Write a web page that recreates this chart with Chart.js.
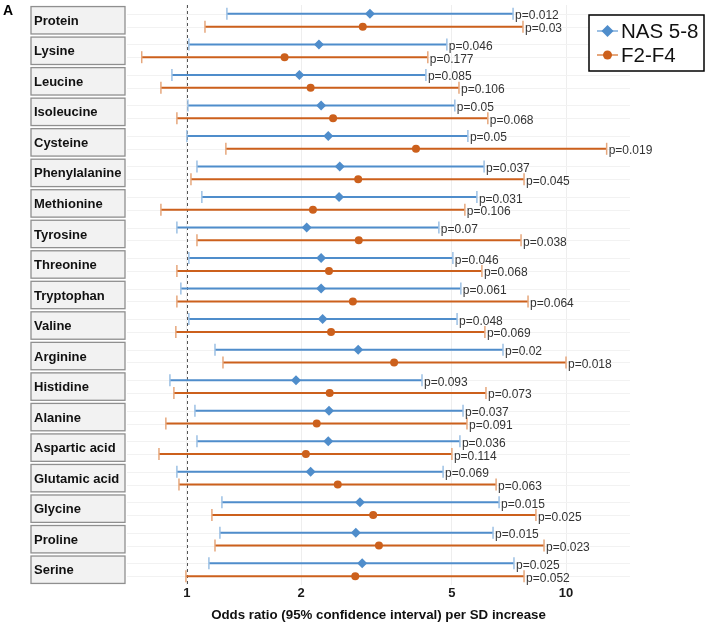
<!DOCTYPE html>
<html>
<head>
<meta charset="utf-8">
<script src="https://cdn.jsdelivr.net/npm/chart.js@4"></script>
<style>
html,body{margin:0;padding:0;background:#fff;}
#wrap{width:709px;height:624px;position:relative;}
</style>
</head>
<body>
<div id="wrap"><canvas id="c" width="709" height="624"></canvas></div>
<script>
const categories = ["Protein","Lysine","Leucine","Isoleucine","Cysteine","Phenylalanine","Methionine","Tyrosine","Threonine","Tryptophan","Valine","Arginine","Histidine","Alanine","Aspartic acid","Glutamic acid","Glycine","Proline","Serine"];

const nasOR = [3.04,2.23,1.98,2.26,2.36,2.53,2.52,2.07,2.26,2.26,2.28,2.83,1.94,2.37,2.36,2.12,2.86,2.79,2.90];
const nasLo = [1.275,1.012,0.913,1.006,1.00,1.063,1.095,0.941,1.012,0.964,1.012,1.186,0.902,1.05,1.063,0.941,1.237,1.222,1.143];
const nasHi = [7.25,4.85,4.27,5.09,5.51,6.08,5.82,4.62,5.03,5.28,5.16,6.82,4.17,5.35,5.25,4.74,6.66,6.42,7.29];
const nasP  = ["p=0.012","p=0.046","p=0.085","p=0.05","p=0.05","p=0.037","p=0.031","p=0.07","p=0.046","p=0.061","p=0.048","p=0.02","p=0.093","p=0.037","p=0.036","p=0.069","p=0.015","p=0.015","p=0.025"];

const f2OR = [2.91,1.81,2.12,2.43,4.02,2.83,2.15,2.84,2.37,2.74,2.40,3.52,2.38,2.20,2.06,2.50,3.10,3.21,2.78];
const f2Lo = [1.116,0.76,0.854,0.941,1.267,1.025,0.854,1.063,0.941,0.941,0.935,1.245,0.924,0.88,0.844,0.953,1.164,1.186,0.994];
const f2Hi = [7.70,4.32,5.22,6.22,12.8,7.75,5.41,7.61,6.0,7.94,6.11,10.0,6.15,5.48,5.0,6.54,8.33,8.75,7.75];
const f2P  = ["p=0.03","p=0.177","p=0.106","p=0.068","p=0.019","p=0.045","p=0.106","p=0.038","p=0.068","p=0.064","p=0.069","p=0.018","p=0.073","p=0.091","p=0.114","p=0.063","p=0.025","p=0.023","p=0.052"];

const xTicks = [1,2,5,10];
const seriesNames = ["NAS 5-8","F2-F4"];

const BLUE = "#4f8dcb", BLUE_CAP = "#9cc0e4";
const ORANGE = "#cc601c", ORANGE_CAP = "#e6a77c";
const OFF = 0.21;
const FONT = "'Liberation Sans', Arial, sans-serif";

const series = [
  {name: seriesNames[0], or: nasOR, lo: nasLo, hi: nasHi, p: nasP, off: -OFF, color: BLUE, cap: BLUE_CAP, style: 'rectRot', r: 5},
  {name: seriesNames[1], or: f2OR, lo: f2Lo, hi: f2Hi, p: f2P, off: OFF, color: ORANGE, cap: ORANGE_CAP, style: 'circle', r: 4}
];

const forestPlugin = {
  id: 'forest',
  beforeDatasetsDraw(chart) {
    const {ctx, chartArea: ca, scales: {x, y}} = chart;
    ctx.save();
    ctx.strokeStyle = '#f2f2f2';
    ctx.lineWidth = 1;
    categories.forEach((c, i) => {
      series.forEach(s => {
        const py = Math.round(y.getPixelForValue(i + s.off)) + 0.5;
        ctx.beginPath(); ctx.moveTo(ca.left, py); ctx.lineTo(ca.right, py); ctx.stroke();
      });
    });
    const x1 = Math.round(x.getPixelForValue(1)) + 0.5;
    ctx.strokeStyle = '#555';
    ctx.setLineDash([3, 3]);
    ctx.beginPath(); ctx.moveTo(x1, ca.top); ctx.lineTo(x1, ca.bottom); ctx.stroke();
    ctx.setLineDash([]);
    series.forEach(s => {
      categories.forEach((c, i) => {
        const py = y.getPixelForValue(i + s.off);
        const xl = x.getPixelForValue(s.lo[i]);
        const xh = x.getPixelForValue(s.hi[i]);
        ctx.strokeStyle = s.color;
        ctx.lineWidth = 2;
        ctx.beginPath(); ctx.moveTo(xl, py); ctx.lineTo(xh, py); ctx.stroke();
        ctx.strokeStyle = s.cap;
        ctx.lineWidth = 1.5;
        ctx.beginPath(); ctx.moveTo(xl, py - 6); ctx.lineTo(xl, py + 6); ctx.stroke();
        ctx.beginPath(); ctx.moveTo(xh, py - 6); ctx.lineTo(xh, py + 6); ctx.stroke();
      });
    });
    ctx.restore();
  },
  afterDatasetsDraw(chart) {
    const {ctx, scales: {x, y}} = chart;
    ctx.save();
    ctx.font = "12px " + FONT;
    ctx.fillStyle = '#333';
    ctx.textAlign = 'left';
    ctx.textBaseline = 'alphabetic';
    series.forEach(s => {
      categories.forEach((c, i) => {
        const py = y.getPixelForValue(i + s.off);
        const xh = x.getPixelForValue(s.hi[i]);
        ctx.fillText(s.p[i], xh + 2, py + 5.5);
      });
    });
    categories.forEach((c, i) => {
      const cy = y.getPixelForValue(i);
      const h = 27.4;
      ctx.fillStyle = '#f2f2f2';
      ctx.fillRect(31, cy - h / 2, 94, h);
      ctx.strokeStyle = '#8f8f8f';
      ctx.lineWidth = 1.3;
      ctx.strokeRect(31, cy - h / 2, 94, h);
      ctx.fillStyle = '#111';
      ctx.font = "bold 13px " + FONT;
      ctx.textBaseline = 'middle';
      ctx.fillText(c, 34, cy + 1);
    });
    ctx.font = "bold 14px " + FONT;
    ctx.fillStyle = '#000';
    ctx.textBaseline = 'alphabetic';
    ctx.fillText("A", 3, 14.5);
    ctx.fillStyle = '#fff';
    ctx.fillRect(589, 15, 115, 56);
    ctx.strokeStyle = '#000';
    ctx.lineWidth = 1.5;
    ctx.strokeRect(589, 15, 115, 56);
    const rows = [31, 55];
    series.forEach((s, k) => {
      const ly = rows[k];
      ctx.strokeStyle = s.cap;
      ctx.lineWidth = 2;
      ctx.beginPath(); ctx.moveTo(597, ly); ctx.lineTo(618, ly); ctx.stroke();
      ctx.fillStyle = s.color;
      ctx.beginPath();
      if (k === 0) { ctx.moveTo(607.5, ly - 6); ctx.lineTo(613.5, ly); ctx.lineTo(607.5, ly + 6); ctx.lineTo(601.5, ly); ctx.closePath(); }
      else { ctx.arc(607.5, ly, 4.5, 0, Math.PI * 2); }
      ctx.fill();
      ctx.fillStyle = '#111';
      ctx.font = "20.5px " + FONT;
      ctx.textBaseline = 'middle';
      ctx.fillText(s.name, 621, ly + 1);
    });
    ctx.restore();
  }
};

const datasets = series.map(s => ({
  label: s.name,
  data: categories.map((c, i) => ({x: s.or[i], y: i + s.off})),
  pointStyle: s.style,
  pointRadius: s.r,
  pointHoverRadius: s.r,
  backgroundColor: s.color,
  borderColor: s.color,
  borderWidth: 0,
  showLine: false
}));

new Chart(document.getElementById('c'), {
  type: 'scatter',
  data: {datasets},
  options: {
    responsive: false,
    animation: false,
    events: [],
    layout: {padding: {left: 127, right: 79, top: 1, bottom: 0}},
    plugins: {legend: {display: false}, tooltip: {enabled: false}},
    scales: {
      x: {
        type: 'logarithmic',
        min: 0.695,
        max: 14.75,
        afterBuildTicks(scale) { scale.ticks = xTicks.map(v => ({value: v})); },
        afterFit(scale) { scale.height = 39; },
        ticks: {
          callback: v => String(v),
          font: {family: FONT, size: 13, weight: 'bold'},
          color: '#1a1a1a',
          padding: 1,
          maxRotation: 0,
          autoSkip: false
        },
        grid: {color: '#eeeeee', drawTicks: false},
        border: {display: false},
        title: {
          display: true,
          text: 'Odds ratio (95% confidence interval) per SD increase',
          font: {family: FONT, size: 13.3, weight: 'bold'},
          color: '#111',
          padding: {top: 4, bottom: 1}
        }
      },
      y: {
        type: 'linear',
        min: -0.5,
        max: 18.5,
        reverse: true,
        display: false
      }
    }
  },
  plugins: [forestPlugin]
});
</script>
</body>
</html>
